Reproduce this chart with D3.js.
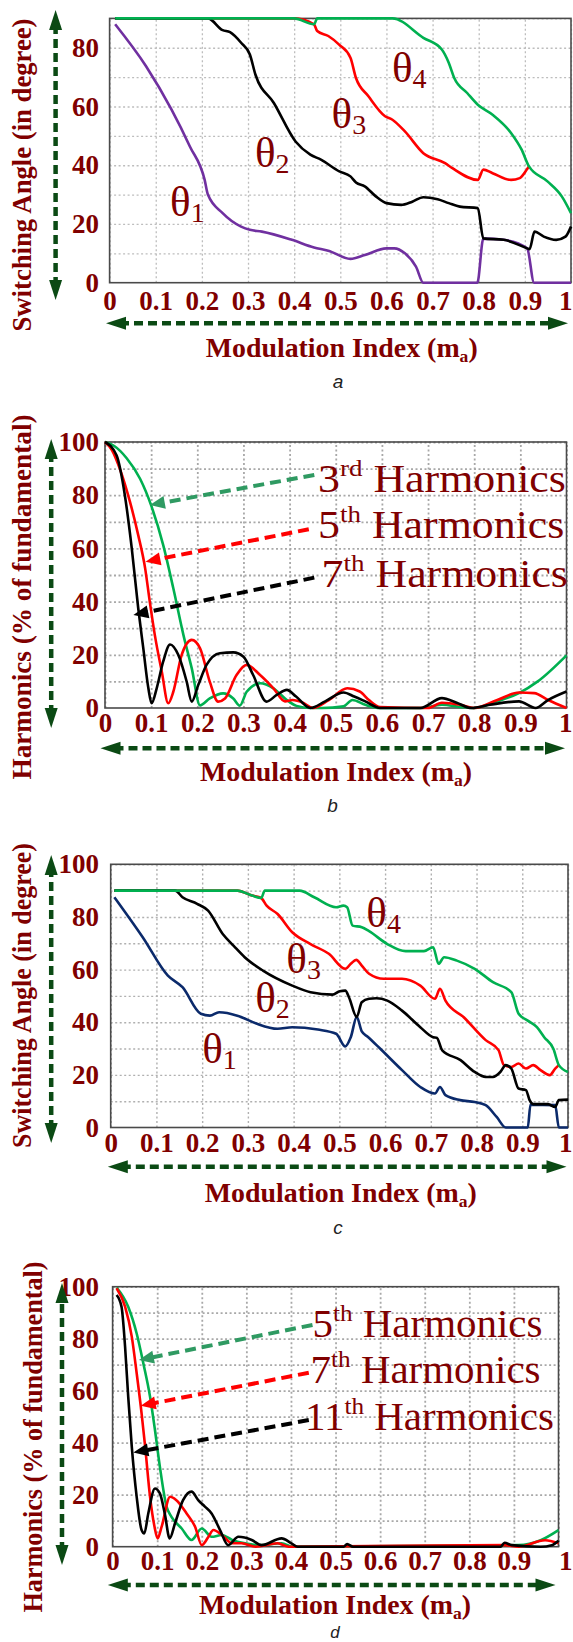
<!DOCTYPE html>
<html>
<head>
<meta charset="utf-8">
<script src="https://cdn.jsdelivr.net/npm/d3@7"></script>
<style>
  body { margin: 0; background: #fff; }
  svg { display: block; }
</style>
</head>
<body>
<svg id="chart" width="573" height="1642"></svg>
<script>
'use strict'

// ---- data (x = modulation index, y = degrees or % of fundamental) ----
const xTicks = [0, 0.1, 0.2, 0.3, 0.4, 0.5, 0.6, 0.7, 0.8, 0.9, 1];
const angleTicksA = [0, 20, 40, 60, 80];
const pctTicks = [0, 20, 40, 60, 80, 100];
const gridYA = [10, 20, 30, 40, 50, 60, 70, 80, 90];
const gridY100 = [10, 20, 30, 40, 50, 60, 70, 80, 90, 100];

// panel a : switching angles
const aTheta1 = [[0.012,88],[0.079,73.7],[0.134,59],[0.174,46.4],[0.206,35],[0.213,30],[0.245,23.7],[0.285,19.1],[0.304,18],[0.33,17.4],[0.395,14.6],[0.443,12],[0.474,10.9],[0.522,8.1],[0.553,9.4],[0.6,11.7],[0.617,11.7],[0.64,10],[0.664,5.5],[0.68,0],[0.797,0],[0.81,15],[0.854,14.6],[0.905,11.7],[0.92,0],[1,0]];
const aTheta2 = [[0.012,90],[0.213,90],[0.245,86],[0.261,85.3],[0.285,81.7],[0.304,77.7],[0.316,70.9],[0.356,61.2],[0.403,48.1],[0.435,43.6],[0.458,41.9],[0.498,37.9],[0.522,36.2],[0.534,34.1],[0.553,32.8],[0.577,29.4],[0.6,27.1],[0.632,26.5],[0.656,27.6],[0.68,29.1],[0.711,28.4],[0.735,27.1],[0.759,25.9],[0.798,25.4],[0.81,15.1],[0.854,14.6],[0.905,11.7],[0.91,11.4],[0.921,17.4],[0.941,15.7],[0.968,14.6],[0.988,15.7],[1,19.1]];
const aTheta3 = [[0.012,90],[0.4,90],[0.443,88],[0.45,85.7],[0.474,84],[0.498,81],[0.522,76.6],[0.534,69.7],[0.561,63.5],[0.597,56.7],[0.613,55.5],[0.64,51.5],[0.68,44.1],[0.727,40.7],[0.743,39],[0.798,35],[0.81,38.5],[0.83,37.3],[0.87,35],[0.889,35.6],[0.905,38.7],[0.909,39.6]];
const aTheta4 = [[0.012,90],[0.4,90],[0.443,88],[0.45,90],[0.613,90],[0.68,83.4],[0.72,79.4],[0.735,74.9],[0.747,69.7],[0.775,64.6],[0.798,60.6],[0.83,57.2],[0.87,51],[0.893,45.3],[0.909,39.6],[0.949,34.5],[0.98,29.4],[1,23.7]];

// panel b : harmonics
const bH3 = [[0,100],[0.02,98.5],[0.047,93.9],[0.076,86.2],[0.101,75.7],[0.126,61.3],[0.148,45],[0.17,27.4],[0.188,14.9],[0.206,1],[0.227,3.6],[0.256,5.5],[0.278,3.6],[0.292,0.9],[0.307,6.1],[0.336,9.3],[0.365,7.4],[0.394,3],[0.415,0.8],[0.445,0],[0.47,0],[0.517,0.6],[0.536,3],[0.564,1.2],[0.596,0],[0.683,0],[0.73,1.2],[0.77,0.4],[0.8,0],[0.85,2.5],[0.897,5.6],[0.937,9.9],[1,19.8]];
const bH5 = [[0,100],[0.015,97],[0.032,90],[0.054,77.6],[0.072,65],[0.087,52.5],[0.097,40],[0.108,27.4],[0.123,13.7],[0.137,1.8],[0.148,6.1],[0.166,19.9],[0.188,25.6],[0.206,22.4],[0.227,9.9],[0.245,2.4],[0.26,3.6],[0.285,12.4],[0.307,16.2],[0.336,12.4],[0.365,7.4],[0.39,2.5],[0.406,3],[0.43,1.9],[0.45,0],[0.485,3],[0.525,7.4],[0.552,6.2],[0.572,3],[0.596,0.4],[0.7,0],[0.73,2],[0.77,1.2],[0.8,0],[0.85,3],[0.897,5.8],[0.93,5.6],[0.96,3],[1,0]];
const bH7 = [[0,100],[0.025,95],[0.043,80],[0.058,60],[0.072,37.5],[0.083,22.4],[0.094,7.4],[0.101,1.8],[0.112,7.4],[0.126,17.4],[0.141,23.9],[0.159,19.9],[0.177,9.9],[0.188,2.4],[0.202,8.6],[0.22,16.2],[0.249,20.6],[0.278,20.9],[0.3,19.3],[0.321,12.4],[0.35,2.4],[0.372,4.9],[0.394,6.8],[0.414,4.3],[0.445,0],[0.477,2.5],[0.517,5.8],[0.54,4.3],[0.564,2.5],[0.596,0],[0.683,0],[0.73,3.7],[0.762,2],[0.794,0],[0.834,1.2],[0.897,2.5],[0.933,0],[0.96,3],[1,6.2]];

// panel c : switching angles
const cTheta1 = [[0.008,87.5],[0.07,72.3],[0.125,57.7],[0.157,53.3],[0.197,43.2],[0.217,42.5],[0.237,43.8],[0.277,42.5],[0.317,39.6],[0.365,37.5],[0.397,38.1],[0.453,37.2],[0.493,35.6],[0.513,30.8],[0.525,34.3],[0.538,42],[0.549,36.5],[0.562,34.5],[0.589,30],[0.637,21.8],[0.677,15.4],[0.709,12.9],[0.72,15.4],[0.732,12.3],[0.764,10.4],[0.796,9.7],[0.82,8.5],[0.844,4],[0.864,0],[0.912,0],[0.918,8.7],[0.972,8.5],[0.98,0],[1,0]];
const cTheta2 = [[0.008,90],[0.141,90],[0.157,87.5],[0.189,85],[0.213,82.4],[0.245,73.5],[0.269,69],[0.293,64.7],[0.333,59.6],[0.397,53.9],[0.437,51.4],[0.485,50.5],[0.501,51.8],[0.513,52],[0.521,49.5],[0.538,42],[0.549,47.6],[0.565,48.9],[0.581,49.1],[0.605,48.2],[0.637,44.4],[0.677,38.1],[0.705,34.3],[0.713,34.1],[0.725,29.3],[0.765,25.6],[0.796,21.1],[0.82,19.2],[0.836,19.2],[0.852,21.1],[0.864,23.7],[0.876,22.4],[0.892,14.8],[0.908,14.2],[0.916,10.4],[0.924,8.9],[0.956,8.9],[0.972,7.8],[0.98,10.4],[1,10.6]];
const cTheta3 = [[0.008,90],[0.277,90],[0.309,88.1],[0.329,87.2],[0.341,84.3],[0.365,81.1],[0.397,74.2],[0.437,69.7],[0.477,66],[0.513,60.3],[0.525,62.2],[0.537,63.7],[0.549,61.5],[0.565,58.4],[0.597,56.5],[0.637,56.5],[0.677,53.9],[0.709,48.9],[0.72,52.7],[0.732,48.2],[0.772,41.9],[0.82,33.2],[0.848,29.4],[0.86,23.7],[0.876,23],[0.892,24.3],[0.908,22.4],[0.924,23.7],[0.94,21.8],[0.96,19.9],[0.972,22.4],[0.98,23.7]];
const cTheta4 = [[0.008,90],[0.277,90],[0.309,88.1],[0.329,87.2],[0.337,90],[0.413,90],[0.445,87.5],[0.493,83.7],[0.509,84.3],[0.517,83.7],[0.529,76.7],[0.549,76.1],[0.565,74.6],[0.605,69.7],[0.645,67],[0.685,67],[0.705,68.5],[0.717,62.2],[0.729,64.7],[0.757,63.4],[0.796,60.3],[0.836,55.2],[0.876,51.4],[0.892,43.2],[0.912,40.6],[0.932,38.1],[0.948,34.3],[0.968,29.9],[0.98,23.7],[1,21.1]];

// panel d : harmonics
const dH5 = [[0.009,99.7],[0.035,92.3],[0.054,82],[0.069,70.5],[0.084,57.7],[0.095,44.9],[0.106,30.8],[0.121,15.4],[0.132,11.5],[0.155,7],[0.177,2.6],[0.2,7],[0.222,3.8],[0.245,4.5],[0.268,2.6],[0.297,1.3],[0.33,0.6],[0.379,1.3],[0.403,0],[0.91,0.6],[0.96,2.5],[1,6.4]];
const dH7 = [[0.009,99.4],[0.028,92.3],[0.043,80.8],[0.054,66.7],[0.065,51.3],[0.073,38.5],[0.084,19.2],[0.094,7.7],[0.101,3.2],[0.11,7.7],[0.129,19.2],[0.143,17.9],[0.166,12.8],[0.185,7.7],[0.2,0.6],[0.215,3.8],[0.226,6.4],[0.245,4.5],[0.268,1.3],[0.289,1.3],[0.321,0],[0.37,1.3],[0.395,0],[0.88,0.6],[0.91,0],[0.97,2.5],[1,1.3]];
const dH11 = [[0.009,96.8],[0.02,92.3],[0.028,76.9],[0.035,57.7],[0.043,38.5],[0.054,19.2],[0.065,6.4],[0.071,5.1],[0.08,12.8],[0.095,22.4],[0.106,20.5],[0.117,12.8],[0.128,3.2],[0.14,9],[0.158,17.9],[0.177,21.2],[0.192,17.9],[0.207,15.4],[0.222,12.8],[0.241,6.4],[0.259,0.6],[0.282,3.8],[0.312,2.6],[0.334,0.6],[0.379,3.2],[0.401,1.3],[0.415,0],[0.518,0],[0.526,1],[0.539,0],[0.87,0],[0.879,1.5],[0.895,0.6],[0.96,0],[0.985,0.6],[1,2.3]];

// ---- styles ----
const maroon = "#800000";
const arrowGreen = "#0b4a14";
const serif = "'Liberation Serif', 'Times New Roman', serif";

const svg = d3.select("#chart");

/**
 * @function
 * @description draw a (dashed) arrow, with a filled head at the end and optionally at the start
 */
function arrow(g, x1, y1, x2, y2, o) {
  let dx = x2 - x1, dy = y2 - y1, L = Math.hypot(dx, dy), ux = dx / L, uy = dy / L;
  let cut = o.len * 0.7;
  g.append("line")
    .attr("x1", o.both ? x1 + ux * cut : x1).attr("y1", o.both ? y1 + uy * cut : y1)
    .attr("x2", x2 - ux * cut).attr("y2", y2 - uy * cut)
    .attr("stroke", o.color).attr("stroke-width", o.sw).attr("stroke-dasharray", o.dash);
  let head = (tx, ty, vx, vy) => {
    let bx = tx - vx * o.len, by = ty - vy * o.len, px = -vy * o.wid / 2, py = vx * o.wid / 2;
    g.append("path")
      .attr("d", `M${tx},${ty}L${bx + px},${by + py}L${bx - px},${by - py}Z`)
      .attr("fill", o.color);
  };
  head(x2, y2, ux, uy);
  if (o.both) head(x1, y1, -ux, -uy);
}

const axisArrow = {color: arrowGreen, sw: 4.5, dash: "9,5", len: 20, wid: 13, both: true};

/**
 * @function
 * @description draw one panel of the figure
 */
function drawPanel(p) {
  let g = svg.append("g");
  let x = d3.scaleLinear().domain([0, 1]).range([p.left, p.right]);
  let y = d3.scaleLinear().domain([0, p.yMax]).range([p.bottom, p.top]);
  let w = p.right - p.left, h = p.bottom - p.top;

  // dotted grid
  g.append("g").attr("transform", `translate(0,${p.bottom})`)
    .call(d3.axisBottom(x).tickValues(xTicks).tickSize(-h).tickFormat(""))
    .call(s => s.select(".domain").remove())
    .selectAll("line").attr("stroke", p.gridColor).attr("stroke-width", p.gridWidth).attr("stroke-dasharray", "2,2.5");
  g.append("g").attr("transform", `translate(${p.left},0)`)
    .call(d3.axisLeft(y).tickValues(p.gridY).tickSize(-w).tickFormat(""))
    .call(s => s.select(".domain").remove())
    .selectAll("line").attr("stroke", p.gridColor).attr("stroke-width", p.gridWidth).attr("stroke-dasharray", "2,2.5");

  // frame
  g.append("rect").attr("x", p.left).attr("y", p.top).attr("width", w).attr("height", h)
    .attr("fill", "none").attr("stroke", "#4a4a4a").attr("stroke-width", 1.6);

  // tick labels
  let xa = g.append("g").attr("transform", `translate(0,${p.bottom})`)
    .call(d3.axisBottom(x).tickValues(xTicks).tickSize(0).tickPadding(p.xPad)
      .tickFormat(d => (d === 0 || d === 1) ? String(d) : d.toFixed(1)));
  xa.select(".domain").remove();
  xa.selectAll("text").attr("font-family", serif).attr("font-size", 27).attr("font-weight", "bold").attr("fill", maroon);
  // keep the last label inside the page
  xa.selectAll(".tick").filter(d => d === 1).select("text")
    .attr("text-anchor", "end").attr("x", 572 - p.right);

  let ya = g.append("g").attr("transform", `translate(${p.left},0)`)
    .call(d3.axisLeft(y).tickValues(p.yTicks).tickSize(0).tickPadding(p.left - 99));
  ya.select(".domain").remove();
  ya.selectAll("text").attr("font-family", serif).attr("font-size", 27).attr("font-weight", "bold").attr("fill", maroon);

  // curves
  let line = d3.line().x(d => x(d[0])).y(d => y(d[1])).curve(d3.curveMonotoneX);
  p.series.forEach(s => {
    g.append("path").datum(s.data).attr("d", line)
      .attr("fill", "none").attr("stroke", s.color).attr("stroke-width", 2.6)
      .attr("stroke-linejoin", "round");
  });

  // theta labels
  (p.thetas || []).forEach(t => {
    let tx = g.append("text").attr("x", x(t.at[0])).attr("y", y(t.at[1]))
      .attr("font-family", serif).attr("font-size", 43).attr("fill", maroon);
    tx.append("tspan").text("θ");
    tx.append("tspan").attr("font-size", 28).attr("dy", 6).text(t.sub);
  });

  // harmonic labels with their arrows
  (p.notes || []).forEach(n => {
    arrow(g, x(n.from[0]), y(n.from[1]), x(n.to[0]), y(n.to[1]),
      {color: n.color, sw: 4, dash: "11,6", len: 15, wid: 13, both: false});
    let tx = g.append("text")
      .attr("transform", `translate(${x(n.at[0])},${y(n.at[1])}) scale(${p.noteScale},1)`)
      .attr("font-family", serif).attr("font-size", 39).attr("fill", maroon);
    tx.append("tspan").text(n.num);
    tx.append("tspan").attr("font-size", 24).attr("dy", -16).text(n.sup);
    tx.append("tspan").attr("dy", 16).text(" Harmonics");
  });

  // axis arrows
  arrow(g, p.vArrow[0], p.vArrow[2], p.vArrow[0], p.vArrow[1], axisArrow);
  arrow(g, p.hArrow[1], p.hArrow[0], p.hArrow[2], p.hArrow[0], axisArrow);

  // axis titles
  let xt = g.append("text").attr("x", p.xTitle[0]).attr("y", p.xTitle[1]).attr("text-anchor", "middle")
    .attr("textLength", 272).attr("lengthAdjust", "spacingAndGlyphs")
    .attr("font-family", serif).attr("font-size", 27).attr("font-weight", "bold").attr("fill", maroon);
  xt.append("tspan").text("Modulation Index (m");
  xt.append("tspan").attr("font-size", 17).attr("dy", 5).text("a");
  xt.append("tspan").attr("dy", -5).text(")");

  g.append("text").attr("transform", `translate(${p.yTitle[0]},${p.yTitle[1]}) rotate(-90)`)
    .attr("text-anchor", "middle").attr("textLength", p.yTitle[2]).attr("lengthAdjust", "spacingAndGlyphs")
    .attr("font-family", serif).attr("font-size", 27).attr("font-weight", "bold").attr("fill", maroon)
    .text(p.yLabel);

  // caption letter
  g.append("text").attr("x", p.caption[1]).attr("y", p.caption[2]).attr("text-anchor", "middle")
    .attr("font-family", "'Liberation Sans', Arial, sans-serif").attr("font-style", "italic")
    .attr("font-size", p.caption[3] || 19).attr("fill", "#222").text(p.caption[0]);
}

drawPanel({
  left: 109.6, right: 571, top: 18.4, bottom: 282.7, yMax: 90,
  yTicks: angleTicksA, gridY: gridYA, gridColor: "#bdbdbd", gridWidth: 1.3, xPad: 8,
  series: [
    {data: aTheta1, color: "#7030a0"},
    {data: aTheta3, color: "#ff0000"},
    {data: aTheta2, color: "#000000"},
    {data: aTheta4, color: "#00b050"}
  ],
  thetas: [
    {sub: "4", at: [0.612, 68.4]},
    {sub: "3", at: [0.481, 52.6]},
    {sub: "2", at: [0.315, 39.5]},
    {sub: "1", at: [0.131, 22.7]}
  ],
  vArrow: [55.6, 10, 300], hArrow: [323.3, 106, 568],
  xTitle: [341.7, 356.7], yTitle: [31, 175, 313], yLabel: "Switching Angle (in degree)",
  caption: ["a", 338, 388]
});

drawPanel({
  left: 105, right: 566.5, top: 442, bottom: 708, yMax: 100,
  yTicks: pctTicks, gridY: gridY100, gridColor: "#a8a8a8", gridWidth: 1.8, xPad: 5, noteScale: 1.125,
  series: [
    {data: bH3, color: "#00b050"},
    {data: bH5, color: "#ff0000"},
    {data: bH7, color: "#000000"}
  ],
  notes: [
    {num: "3", sup: "rd", at: [0.4616, 81.3], from: [0.4535, 87.6], to: [0.0973, 76.3], color: "#2f9a62"},
    {num: "5", sup: "th", at: [0.4616, 63.8], from: [0.4416, 67.2], to: [0.0878, 55.0], color: "#ff0000"},
    {num: "7", sup: "th", at: [0.4693, 45.4], from: [0.4535, 49.0], to: [0.0615, 35.0], color: "#000000"}
  ],
  vArrow: [51.2, 439, 728], hArrow: [748.3, 100.5, 565],
  xTitle: [336, 780.7], yTitle: [31, 597, 365], yLabel: "Harmonics (% of fundamental)",
  caption: ["b", 332.6, 812]
});

drawPanel({
  left: 110.7, right: 568, top: 864.3, bottom: 1127.5, yMax: 100,
  yTicks: pctTicks, gridY: gridY100, gridColor: "#b0b0b0", gridWidth: 1.4, xPad: 5.5,
  series: [
    {data: cTheta1, color: "#0b2a6b"},
    {data: cTheta3, color: "#ff0000"},
    {data: cTheta2, color: "#000000"},
    {data: cTheta4, color: "#00b050"}
  ],
  thetas: [
    {sub: "4", at: [0.559, 76.3]},
    {sub: "3", at: [0.384, 58.6]},
    {sub: "2", at: [0.316, 44.0]},
    {sub: "1", at: [0.2, 24.5]}
  ],
  vArrow: [51.2, 855, 1143], hArrow: [1166.7, 107.8, 566.5],
  xTitle: [340.8, 1201.7], yTitle: [31, 995.5, 305], yLabel: "Switching Angle (in degree)",
  caption: ["c", 338, 1234]
});

drawPanel({
  left: 112.6, right: 558.5, top: 1286.7, bottom: 1546.7, yMax: 100,
  yTicks: pctTicks, gridY: gridY100, gridColor: "#a8a8a8", gridWidth: 1.8, xPad: 4.5, noteScale: 1.05,
  series: [
    {data: dH5, color: "#00b050"},
    {data: dH7, color: "#ff0000"},
    {data: dH11, color: "#000000"}
  ],
  notes: [
    {num: "5", sup: "th", at: [0.4483, 80.5], from: [0.4483, 85.3], to: [0.059, 71.8], color: "#2f9a62"},
    {num: "7", sup: "th", at: [0.444, 62.8], from: [0.44, 66.9], to: [0.063, 54.2], color: "#ff0000"},
    {num: "11", sup: "th", at: [0.4315, 44.9], from: [0.44, 48.7], to: [0.0466, 36.2], color: "#000000"}
  ],
  vArrow: [62, 1283, 1565], hArrow: [1585, 107.8, 555.5],
  xTitle: [335, 1614], yTitle: [42, 1437, 351], yLabel: "Harmonics (% of fundamental)",
  caption: ["d", 335, 1638, 17]
});
</script>
</body>
</html>
